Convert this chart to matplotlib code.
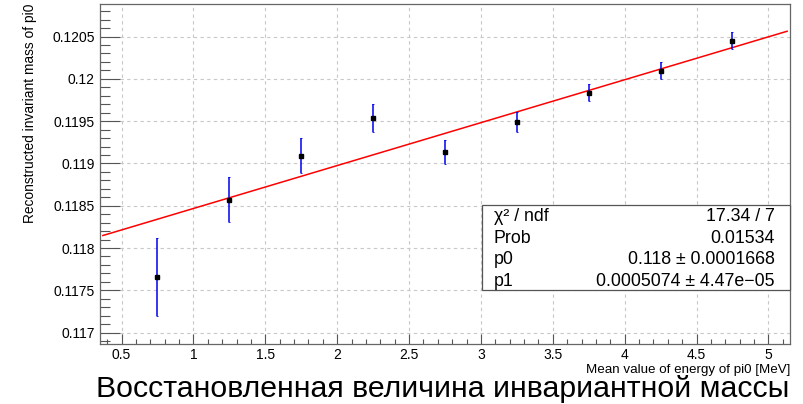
import numpy as np
import matplotlib
matplotlib.use("Agg")
import matplotlib.pyplot as plt
from matplotlib.patches import Rectangle
from matplotlib.ticker import MultipleLocator, FormatStrFormatter

plt.rcParams['font.family'] = ['Liberation Sans', 'DejaVu Sans']

# mean pi0 energy bins and reconstructed mass with errors
energy = [0.75, 1.25, 1.75, 2.25, 2.75, 3.25, 3.75, 4.25, 4.75]
mass = [0.117655, 0.118572, 0.119092, 0.119534, 0.119139, 0.119494, 0.119837, 0.120097, 0.120452]
mass_err = [0.000458, 0.000270, 0.000203, 0.000168, 0.000140, 0.000118, 0.000104, 0.000098, 0.000100]

# linear fit results (pol1)
chi2, ndf, prob = 17.34, 7, 0.01534
p0, p0_err = 0.11796, 0.0001668
p1, p1_err = 0.0005074, 4.47e-05

W, H = 804, 404
fig = plt.figure(figsize=(W / 100, H / 100), dpi=100)
ax = fig.add_axes([100 / W, (H - 344) / H, 690 / W, 340 / H])

ax.set_xlim(0.35, 5.15)
ax.set_ylim(0.116865, 0.120885)

ax.xaxis.set_major_locator(MultipleLocator(0.5))
ax.xaxis.set_minor_locator(MultipleLocator(0.1))
ax.yaxis.set_major_locator(MultipleLocator(0.0005))
ax.yaxis.set_minor_locator(MultipleLocator(0.0001))
ax.xaxis.set_major_formatter(FormatStrFormatter('%g'))
ax.yaxis.set_major_formatter(FormatStrFormatter('%g'))

ax.tick_params(axis='both', which='both', direction='in', color='#555555', width=0.8,
               labelsize=10, top=False, right=False)
ax.tick_params(axis='y', which='major', length=14.4, pad=3.6)
ax.tick_params(axis='y', which='minor', length=7.2)
ax.tick_params(axis='x', which='major', length=7.2, pad=2.6)
ax.tick_params(axis='x', which='minor', length=3.6)

for s in ax.spines.values():
    s.set_color('#666666')
    s.set_linewidth(0.9)

ax.grid(True, which='major', color='#c8c8c8', linestyle=(0, (3, 3)), linewidth=0.8)
ax.set_axisbelow(True)

# fit line over the graph range
xf = np.linspace(0.37, 5.13, 200)
ax.plot(xf, p0 + p1 * xf, color='red', lw=1.1, zorder=3)

ax.errorbar(energy, mass, yerr=mass_err, fmt='s', color='black', ms=3.5,
            ecolor='#0000ee', elinewidth=1.1, capsize=0.8, capthick=0.6, zorder=4)

fig.text(790 / W, 1 - 370 / H, 'Mean value of energy of pi0 [MeV]', ha='right', va='center', fontsize=9.6)
fig.text(30 / W, 1 - 4 / H, 'Reconstructed invariant mass of pi0', rotation=90,
         ha='center', va='top', fontsize=9.9)

# fit statistics box
bx0, by0, bx1, by1 = 482, 205, 790, 290
fig.patches.append(Rectangle((bx0 / W, 1 - by1 / H), (bx1 - bx0) / W, (by1 - by0) / H,
                             transform=fig.transFigure, facecolor='white',
                             edgecolor='#555555', lw=0.9, zorder=5))

def fmt(v):
    return ('%.4g' % v).replace('-', '\u2212')

rows = [
    ('\u03c7\u00b2 / ndf', '%.4g / %d' % (chi2, ndf)),
    ('Prob', fmt(prob)),
    ('p0', '%s \u00b1 %s' % (fmt(p0), fmt(p0_err))),
    ('p1', '%s \u00b1 %s' % (fmt(p1), fmt(p1_err))),
]
row_y = [216.5, 238.3, 260, 281.7]
for (name, val), y in zip(rows, row_y):
    fig.text(494 / W, 1 - y / H, name, ha='left', va='center', fontsize=12.8, zorder=6)
    fig.text(775 / W, 1 - y / H, val, ha='right', va='center', fontsize=12.8, zorder=6)

fig.text(442.5 / W, 1 - 389 / H, 'Восстановленная величина инвариантной массы',
         ha='center', va='center', fontsize=21.8)

fig.savefig('out.png', dpi=100)
